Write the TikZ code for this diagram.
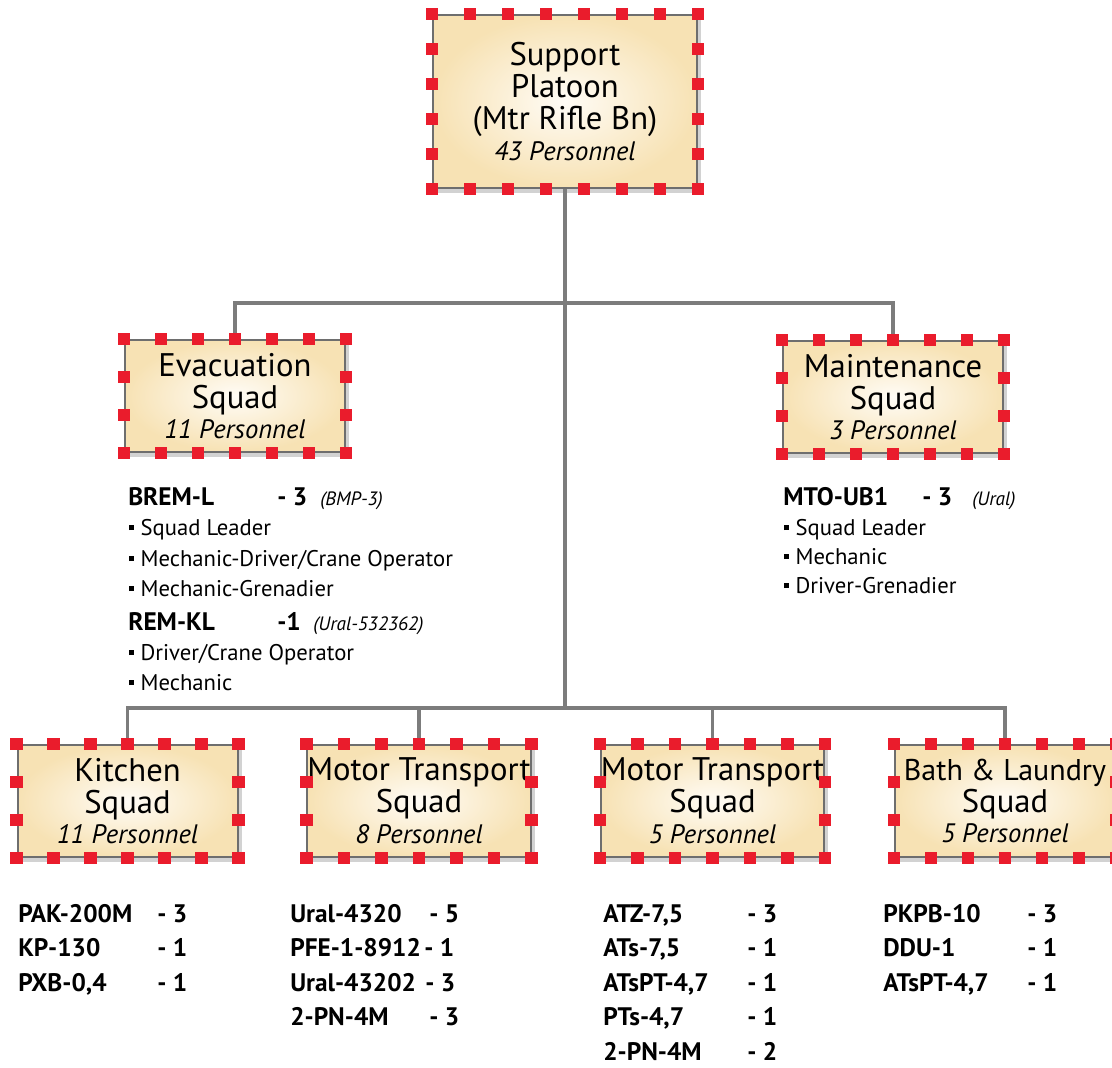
\documentclass[tikz,border=0pt]{standalone}
\usepackage{fontspec}
\setmainfont{PT Sans}
\usetikzlibrary{shadows,calc}
\definecolor{sqred}{HTML}{EA1C2C}
\definecolor{connc}{HTML}{7C7C7C}
\definecolor{boxedge}{HTML}{6E6E6E}
\definecolor{boxout}{HTML}{F7E2B4}
\definecolor{boxin}{HTML}{FFFCF6}
\newcommand\bul{\rule[0.22em]{0.2em}{0.2em}\hspace{0.3em}}
\newcommand\pers[1]{\\[-1pt]{\itshape\fontsize{20}{24}\selectfont #1}}
\newcommand\redsq[3]{%
  \pgfmathtruncatemacro\nxm{#2-1}%
  \pgfmathtruncatemacro\nym{#3-1}%
  \pgfmathtruncatemacro\nymm{#3-2}%
  \foreach \i in {0,...,\nxm}{%
    \fill[sqred] ($(#1.north west)!{\i/\nxm}!(#1.north east)$) +(-6.2,-6.2) rectangle +(6.2,6.2);
    \fill[sqred] ($(#1.south west)!{\i/\nxm}!(#1.south east)$) +(-6.2,-6.2) rectangle +(6.2,6.2);
  }%
  \foreach \j in {1,...,\nymm}{%
    \fill[sqred] ($(#1.north west)!{\j/\nym}!(#1.south west)$) +(-6.2,-6.2) rectangle +(6.2,6.2);
    \fill[sqred] ($(#1.north east)!{\j/\nym}!(#1.south east)$) +(-6.2,-6.2) rectangle +(6.2,6.2);
  }%
}
\tikzset{
  sqbox/.style={draw=boxedge, line width=1.5pt, shading=radial, inner color=boxin,
    outer color=boxout, align=center, inner sep=0pt,
    drop shadow={shadow xshift=3pt, shadow yshift=-3.5pt, opacity=0.25, fill=black!70},
    font=\fontsize{24.5}{24}\selectfont},
  smallbox/.style={sqbox, minimum width=165pt, minimum height=84pt},
  conn/.style={draw=connc, line width=2.5pt},
  lb/.style={anchor=base west, inner sep=0pt, font=\bfseries\fontsize{19}{22}\selectfont},
  lr/.style={anchor=base west, inner sep=0pt, font=\fontsize{17}{20}\selectfont},
  li/.style={anchor=base west, inner sep=0pt, font=\itshape\fontsize{14.5}{16}\selectfont},
}
\begin{document}
\begin{tikzpicture}[x=0.75pt,y=-0.75pt]
\useasboundingbox (0,0) rectangle (1112,1067);
\fill[white] (0,0) rectangle (1112,1067);

% boxes
\node[sqbox, minimum width=198pt, minimum height=129.75pt] (top) at (565,101.5)
  {Support\\Platoon\\(Mtr Rifle Bn)\pers{43 Personnel}};
\node[smallbox] (evac) at (235,396) {Evacuation\\Squad\pers{11 Personnel}};
\node[smallbox] (maint) at (893,397) {Maintenance\\Squad\pers{3 Personnel}};
\node[smallbox] (kitchen) at (127.5,801) {Kitchen\\Squad\pers{11 Personnel}};
\node[smallbox] (mt1) at (419,801) {Motor Transport\\Squad\pers{8 Personnel}};
\node[smallbox] (mt2) at (712.5,801) {Motor Transport\\Squad\pers{5 Personnel}};
\node[smallbox] (bath) at (1005,801) {{\fontsize{22.5}{24}\selectfont Bath \& Laundry}\\Squad\pers{5 Personnel}};

% connectors
\coordinate (j1) at (567,303);
\coordinate (j2) at (567,708);
\draw[conn] (top.south) -- (top.south |- j2);
\draw[conn] (evac.north) |- (j1) -| (maint.north);
\draw[conn] (kitchen.north) |- (j2) -| (bath.north);
\draw[conn] (mt1.north) -- (mt1.north |- j2);
\draw[conn] (mt2.north) -- (mt2.north |- j2);

% red squares
\redsq{top}{8}{6}
\redsq{evac}{7}{4}
\redsq{maint}{7}{4}
\redsq{kitchen}{7}{4}
\redsq{mt1}{7}{4}
\redsq{mt2}{7}{4}
\redsq{bath}{7}{4}

% evacuation list
\node[lb] (brem) at (128,505) {BREM-L};
\node[lb] (bremn) at (277,505) {- 3};
\node[li] (bremv) at (320,505) {(BMP-3)};
\node[lr] (e1) at (129,535) {\bul Squad Leader};
\node[lr] (e2) at (129,566) {\bul Mechanic-Driver/Crane Operator};
\node[lr] (e3) at (129,596) {\bul Mechanic-Grenadier};
\node[lb] (remkl) at (128,630) {REM-KL};
\node[lb] (remkln) at (277,630) {-1};
\node[li] (remklv) at (313,630) {(Ural-532362)};
\node[lr] (e4) at (129,660) {\bul Driver/Crane Operator};
\node[lr] (e5) at (129,690) {\bul Mechanic};

% maintenance list
\node[lb] (mto) at (783,505) {MTO-UB1};
\node[lb] (mton) at (922,505) {- 3};
\node[li] (mtov) at (972,505) {(Ural)};
\node[lr] (m1) at (784,535) {\bul Squad Leader};
\node[lr] (m2) at (784,564) {\bul Mechanic};
\node[lr] (m3) at (784,593) {\bul Driver-Grenadier};

% kitchen list
\node[lb] (k1) at (18,922) {PAK-200M};  \node[lb] (k1n) at (157,922) {- 3};
\node[lb] (k2) at (18,956.5) {KP-130};    \node[lb] (k2n) at (157,956.5) {- 1};
\node[lb] (k3) at (18,991) {PXB-0,4};   \node[lb] (k3n) at (157,991) {- 1};

% motor transport 1 list
\node[lb] (a1) at (290,922) {Ural-4320};   \node[lb] (a1n) at (429,922) {- 5};
\node[lb] (a2) at (290,956.5) {PFE-1-8912};  \node[lb] (a2n) at (424,956.5) {- 1};
\node[lb] (a3) at (290,991) {Ural-43202};  \node[lb] (a3n) at (425,991) {- 3};
\node[lb] (a4) at (290,1025.5) {2-PN-4M};    \node[lb] (a4n) at (429,1025.5) {- 3};

% motor transport 2 list
\node[lb] (b1) at (603,922) {ATZ-7,5};     \node[lb] (b1n) at (747,922) {- 3};
\node[lb] (b2) at (603,956.5) {ATs-7,5};     \node[lb] (b2n) at (747,956.5) {- 1};
\node[lb] (b3) at (603,991) {ATsPT-4,7};   \node[lb] (b3n) at (747,991) {- 1};
\node[lb] (b4) at (603,1025.5) {PTs-4,7};    \node[lb] (b4n) at (747,1025.5) {- 1};
\node[lb] (b5) at (603,1060) {2-PN-4M};    \node[lb] (b5n) at (747,1060) {- 2};

% bath list
\node[lb] (c1) at (883,922) {PKPB-10};     \node[lb] (c1n) at (1027,922) {- 3};
\node[lb] (c2) at (883,956.5) {DDU-1};       \node[lb] (c2n) at (1027,956.5) {- 1};
\node[lb] (c3) at (883,991) {ATsPT-4,7};   \node[lb] (c3n) at (1027,991) {- 1};
\end{tikzpicture}
\end{document}
